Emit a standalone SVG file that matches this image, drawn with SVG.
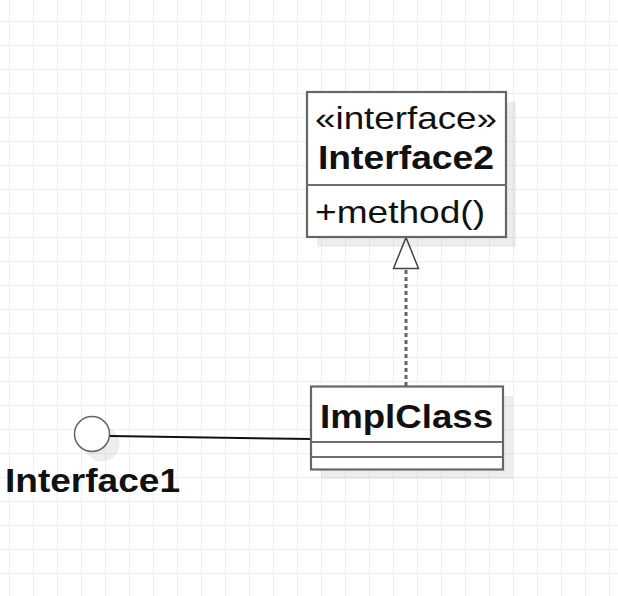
<svg xmlns="http://www.w3.org/2000/svg" width="618" height="596" viewBox="0 0 618 596">
<defs>
<pattern id="grid" x="9" y="21" width="24" height="24" patternUnits="userSpaceOnUse">
<path d="M0.5 0V24M0 0.5H24" fill="none" stroke="#efefef" stroke-width="1"/>
</pattern>
<style>
.box{fill:#fff;stroke:#666;stroke-width:2.2}
.shadow{fill:#000;fill-opacity:0.07;stroke:none}
.sep{stroke:#6f6f6f;stroke-width:2.2}
.reg{font-family:"Liberation Sans",Arial,sans-serif;font-size:32px;fill:#111}
.bold{font-family:"Liberation Sans",Arial,sans-serif;font-size:34px;font-weight:bold;fill:#111}
</style>
</defs>
<rect width="618" height="596" fill="#fff"/>
<rect width="618" height="596" fill="url(#grid)"/>
<g id="connectors">
<path d="M406 386V269" fill="none" stroke="#666" stroke-width="3" stroke-dasharray="4 3"/>
<path d="M406 237.5L393.5 268.5H418.5Z" fill="#fff" stroke="#444" stroke-width="1.5" stroke-linejoin="miter"/>
<path d="M110 436L311 439" fill="none" stroke="#111" stroke-width="2"/>
</g>
<g id="interface2">
<rect class="shadow" x="317" y="102" width="199" height="145"/>
<rect class="box" x="307" y="92" width="199" height="145"/>
<line class="sep" x1="307" y1="185" x2="506" y2="185"/>
<text class="reg" x="315" y="129" textLength="182" lengthAdjust="spacingAndGlyphs">«interface»</text>
<text class="bold" x="318" y="169" textLength="176" lengthAdjust="spacingAndGlyphs">Interface2</text>
<text class="reg" x="315" y="223" textLength="170" lengthAdjust="spacingAndGlyphs">+method()</text>
</g>
<g id="implclass">
<rect class="shadow" x="321" y="396" width="192" height="83"/>
<rect class="box" x="311" y="386.5" width="192" height="83"/>
<line class="sep" x1="311" y1="442" x2="503" y2="442"/>
<line class="sep" x1="311" y1="457" x2="503" y2="457"/>
<text class="bold" x="320" y="428" textLength="173" lengthAdjust="spacingAndGlyphs">ImplClass</text>
</g>
<g id="interface1">
<circle class="shadow" cx="102" cy="444" r="17.5"/>
<circle cx="92" cy="434" r="17.5" fill="#fff" stroke="#666" stroke-width="1.5"/>
<text class="bold" x="5" y="492" textLength="175" lengthAdjust="spacingAndGlyphs">Interface1</text>
</g>
</svg>
